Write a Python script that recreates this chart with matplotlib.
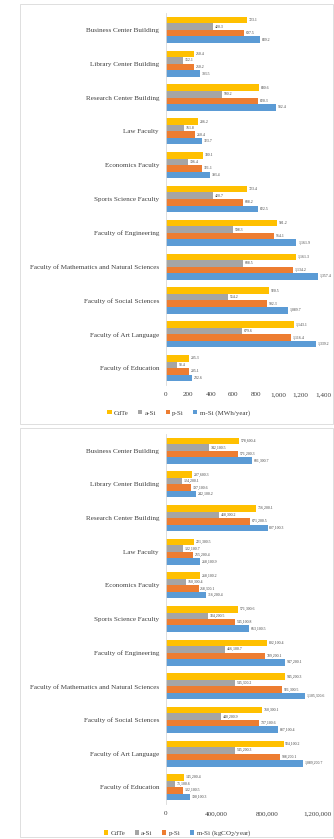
import matplotlib.pyplot as plt
from matplotlib.patches import Rectangle
import numpy as np

plt.rcParams['font.family'] = ['Liberation Serif', 'DejaVu Serif']

buildings = ['Business Center Building', 'Library Center Building', 'Research Center Building',
             'Law Faculty', 'Economics Faculty', 'Sports Science Faculty', 'Faculty of Engineering',
             'Faculty of Mathematics and Natural Sciences', 'Faculty of Social Sciences',
             'Faculty of Art Language', 'Faculty of Education']
series = ['CdTe', 'a-Si', 'p-Si', 'm-Si']
colors = ['#FFC000', '#A5A5A5', '#ED7D31', '#5B9BD5']

# energy output, MWh/year
cdte_e = [723.1, 250.4, 830.6, 286.2, 330.1, 723.4, 991.2, 1161.3, 920.5, 1143.1, 205.3]
asi_e = [420.3, 152.1, 500.2, 161.8, 196.4, 420.7, 598.3, 688.5, 554.2, 679.6, 98.4]
psi_e = [697.5, 250.2, 820.3, 260.4, 321.1, 688.2, 964.1, 1134.2, 902.3, 1116.4, 205.1]
msi_e = [839.2, 303.5, 982.4, 323.7, 393.4, 822.5, 1161.9, 1357.4, 1089.7, 1339.2, 232.6]

# avoided emissions, kgCO2/year
cdte_c = [578600.4, 207600.3, 716200.1, 221300.5, 268100.2, 571300.6, 802100.4, 945200.3, 760300.1, 934100.2, 145200.4]
asi_c = [342100.5, 124200.1, 418300.2, 132100.7, 160300.4, 334200.5, 466100.7, 545300.2, 440200.9, 545200.3, 71100.6]
psi_c = [571200.3, 197100.6, 671200.5, 215200.4, 258300.1, 545100.8, 789200.1, 921300.5, 737100.6, 908200.1, 132100.5]
msi_c = [681300.7, 242100.2, 807100.3, 268100.9, 316200.4, 663100.5, 947200.1, 1105300.6, 887100.4, 1089200.7, 190100.3]

fig = plt.figure(figsize=(3.34, 8.39), dpi=100)
W, H = 334, 839

# chart frames
for y0, y1 in [(4, 424), (428, 837)]:
    fig.patches.append(Rectangle((20 / W, 1 - y1 / H), 313 / W, (y1 - y0) / H,
                                 transform=fig.transFigure, fill=False,
                                 edgecolor='#D9D9D9', linewidth=0.6))


def panel(rect, data, xmax, ticks, ticklabels, unit, fmt):
    left, top, right, bottom = rect
    ax = fig.add_axes([left / W, 1 - bottom / H, (right - left) / W, (bottom - top) / H])
    y = np.arange(len(buildings))
    h = 0.193
    for i, vals in enumerate(data):
        pos = y - 1.5 * h + i * h
        ax.barh(pos, vals, height=h, color=colors[i], label=series[i])
        for p, v in zip(pos, vals):
            ax.text(v + xmax * 0.012, p, fmt(v), fontsize=2.8, va='center', ha='left',
                    color='#404040',
                    bbox=dict(boxstyle='square,pad=0.15', fc='white', ec='none'))
    ax.set_ylim(len(buildings) - 0.5, -0.5)
    ax.set_xlim(0, xmax)
    ax.set_yticks(y)
    ax.set_yticklabels(buildings, fontsize=5.1, color='#404040')
    ax.set_xticks(ticks)
    ax.set_xticklabels(ticklabels, fontsize=5.1, color='#404040')
    ax.tick_params(axis='both', length=0, pad=5)
    for s in ['top', 'right', 'bottom']:
        ax.spines[s].set_visible(False)
    ax.spines['left'].set_color('#D9D9D9')
    ax.spines['left'].set_linewidth(0.6)
    handles, labels = ax.get_legend_handles_labels()
    labels[-1] = labels[-1] + ' ' + unit
    ax.legend(handles, labels, loc='upper center', bbox_to_anchor=(0.08, -0.05),
              ncol=4, frameon=False, fontsize=5.0, handlelength=0.6, handleheight=0.6,
              columnspacing=1.4, handletextpad=0.3, labelcolor='#404040')
    return ax


panel((166, 13, 323, 385), [cdte_e, asi_e, psi_e, msi_e], 1400,
      [0, 200, 400, 600, 800, 1000, 1200, 1400],
      ['0', '200', '400', '600', '800', '1,000', '1,200', '1,400'],
      '(MWh/year)', lambda v: f'{v:,.1f}')

panel((166, 434, 317, 804), [cdte_c, asi_c, psi_c, msi_c], 1200000,
      [0, 400000, 800000, 1200000],
      ['0', '400,000', '800,000', '1,200,000'],
      '(kgCO$_2$/year)', lambda v: f'{v:,.1f}')

fig.savefig('out.png', dpi=100)
